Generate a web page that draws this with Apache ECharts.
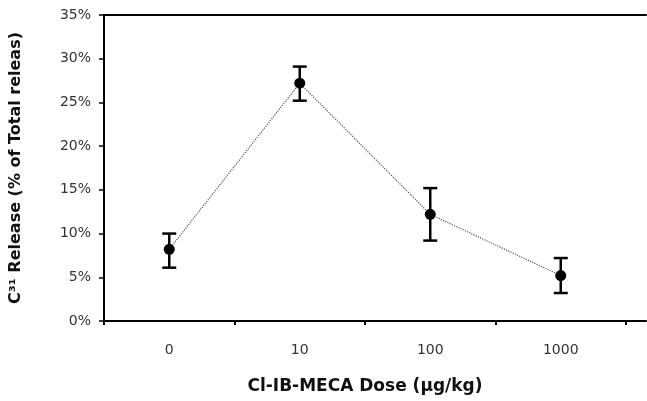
<!DOCTYPE html>
<html>
<head>
<meta charset="utf-8">
<script src="https://cdn.jsdelivr.net/npm/echarts@6/dist/echarts.min.js"></script>
<style>
  html, body { margin: 0; padding: 0; background: #fff; }
  #chart { width: 647px; height: 401px; }
</style>
</head>
<body>
<div id="chart"></div>
<script>
// dose groups (µg/kg)
const doses = ['0', '10', '100', '1000']
// mean release, % of total
const releaseMean = [8.2, 27.2, 12.2, 5.2]
// error bar ends
const errLow = [6.1, 25.2, 9.2, 3.2]
const errHigh = [10.0, 29.1, 15.2, 7.2]

const myChart = echarts.init(document.getElementById('chart'))

const font = 'DejaVu Sans, Liberation Sans, sans-serif'

const errData = doses.map((d, i) => [i, errLow[i], errHigh[i]])

const option = {
  animation: false,
  backgroundColor: '#fff',
  grid: [
    { left: 104, top: 15, width: 522, height: 306 },
    // frame lines that run to the right edge
    { left: 104, top: 15, right: 1, height: 306 }
  ],
  xAxis: [
    {
      type: 'category',
      gridIndex: 0,
      data: doses,
      boundaryGap: true,
      axisLine: { lineStyle: { color: '#000', width: 2 } },
      axisTick: { show: true, length: 4, lineStyle: { color: '#000', width: 2 } },
      axisLabel: { color: '#333', fontFamily: font, fontSize: 14, margin: 22 },
      name: 'Cl-IB-MECA Dose (µg/kg)',
      nameLocation: 'middle',
      nameGap: 57,
      nameTextStyle: { color: '#111', fontFamily: font, fontSize: 17, fontWeight: 'bold' }
    },
    {
      type: 'value', gridIndex: 1, position: 'top', min: 0, max: 1,
      axisLine: { show: true, onZero: false, lineStyle: { color: '#000', width: 2 } },
      axisTick: { show: false }, axisLabel: { show: false }, splitLine: { show: false }
    },
    {
      type: 'value', gridIndex: 1, position: 'bottom', min: 0, max: 1,
      axisLine: { show: true, onZero: false, lineStyle: { color: '#000', width: 2 } },
      axisTick: { show: false }, axisLabel: { show: false }, splitLine: { show: false }
    }
  ],
  yAxis: [
    {
      type: 'value',
      gridIndex: 0,
      min: 0,
      max: 35,
      interval: 5,
      axisLine: { show: true, lineStyle: { color: '#000', width: 2 } },
      axisTick: { show: true, length: 5, lineStyle: { color: '#000', width: 1.5 } },
      splitLine: { show: false },
      axisLabel: { formatter: '{value}%', color: '#333', fontFamily: font, fontSize: 14, margin: 13 },
      name: 'C³¹ Release (% of Total releas)',
      nameLocation: 'middle',
      nameGap: 80,
      nameTextStyle: { color: '#111', fontFamily: font, fontSize: 16, fontWeight: 'bold' }
    },
    { type: 'value', gridIndex: 1, show: false, min: 0, max: 1 }
  ],
  series: [
    {
      type: 'line',
      xAxisIndex: 0,
      yAxisIndex: 0,
      data: releaseMean,
      symbol: 'circle',
      symbolSize: 11,
      itemStyle: { color: '#000' },
      lineStyle: { color: '#555', width: 1.2, type: 'dotted' },
      z: 3
    },
    {
      type: 'custom',
      xAxisIndex: 0,
      yAxisIndex: 0,
      data: errData,
      z: 4,
      renderItem: function (params, api) {
        const x = api.value(0)
        const lo = api.coord([x, api.value(1)])
        const hi = api.coord([x, api.value(2)])
        const cap = 7
        const style = { stroke: '#000', lineWidth: 2.5 }
        return {
          type: 'group',
          children: [
            { type: 'line', shape: { x1: lo[0], y1: lo[1], x2: hi[0], y2: hi[1] }, style: style },
            { type: 'line', shape: { x1: lo[0] - cap, y1: lo[1], x2: lo[0] + cap, y2: lo[1] }, style: style },
            { type: 'line', shape: { x1: hi[0] - cap, y1: hi[1], x2: hi[0] + cap, y2: hi[1] }, style: style }
          ]
        }
      }
    }
  ]
}

myChart.setOption(option)
</script>
</body>
</html>
